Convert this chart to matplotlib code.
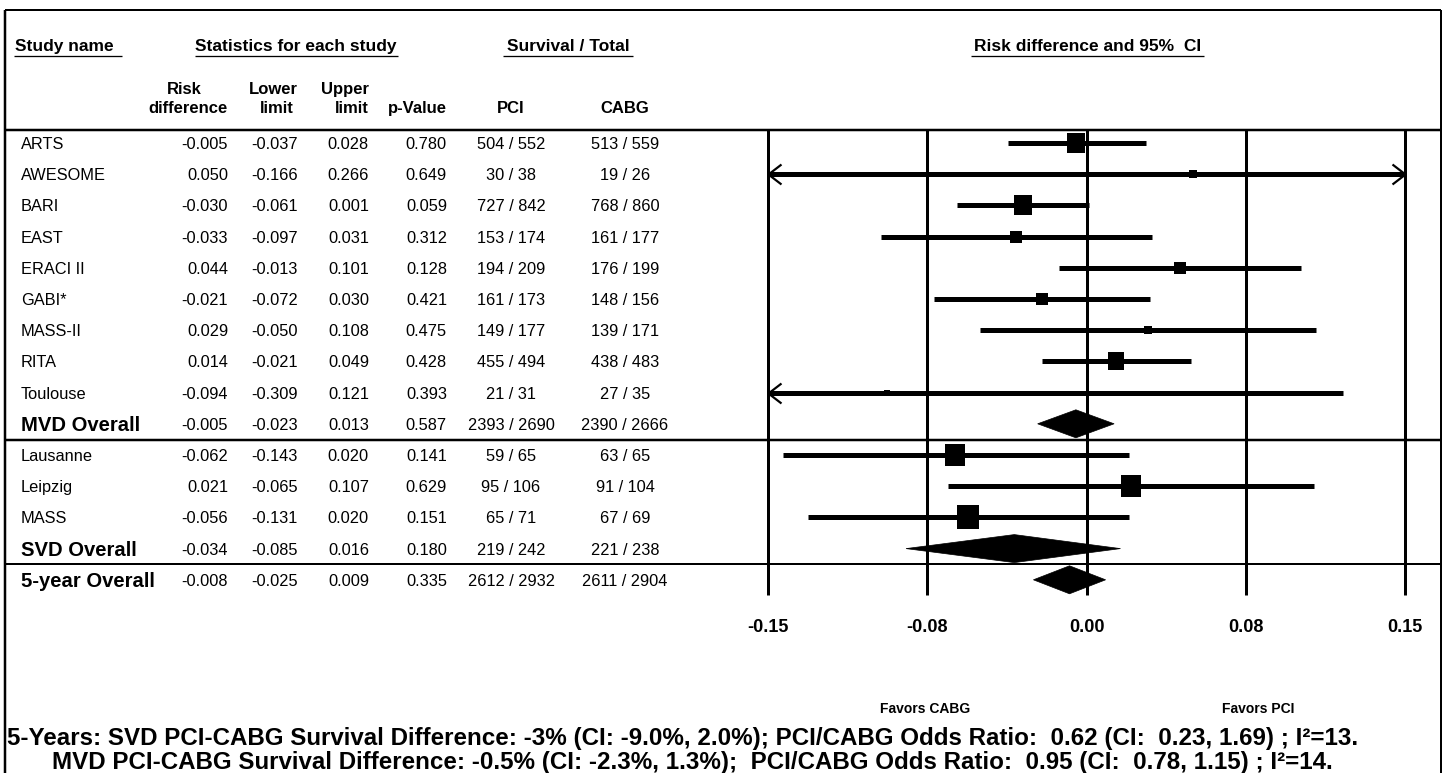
import matplotlib
matplotlib.use("Agg")
import matplotlib.pyplot as plt
from matplotlib.path import Path
from matplotlib.patches import Polygon
import numpy as np

# ---------------------------------------------------------------- data
study_names = ["ARTS", "AWESOME", "BARI", "EAST", "ERACI II", "GABI*", "MASS-II",
               "RITA", "Toulouse", "MVD Overall", "Lausanne", "Leipzig", "MASS",
               "SVD Overall", "5-year Overall"]
is_summary = [False] * 9 + [True] + [False] * 3 + [True, True]

risk_diff = [-0.005, 0.050, -0.030, -0.033, 0.044, -0.021, 0.029, 0.014, -0.094,
             -0.005, -0.062, 0.021, -0.056, -0.034, -0.008]
lower_limit = [-0.037, -0.166, -0.061, -0.097, -0.013, -0.072, -0.050, -0.021, -0.309,
               -0.023, -0.143, -0.065, -0.131, -0.085, -0.025]
upper_limit = [0.028, 0.266, 0.001, 0.031, 0.101, 0.030, 0.108, 0.049, 0.121,
               0.013, 0.020, 0.107, 0.020, 0.016, 0.009]
p_value = [0.780, 0.649, 0.059, 0.312, 0.128, 0.421, 0.475, 0.428, 0.393,
           0.587, 0.141, 0.629, 0.151, 0.180, 0.335]

pci_survived = [504, 30, 727, 153, 194, 161, 149, 455, 21, 2393, 59, 95, 65, 219, 2612]
pci_total = [552, 38, 842, 174, 209, 173, 177, 494, 31, 2690, 65, 106, 71, 242, 2932]
cabg_survived = [513, 19, 768, 161, 176, 148, 139, 438, 27, 2390, 63, 91, 67, 221, 2611]
cabg_total = [559, 26, 860, 177, 199, 156, 171, 483, 35, 2666, 65, 104, 69, 238, 2904]

# relative study weight (%) within its subgroup; summary rows carry none
study_weight = [22, 4, 24, 9, 9, 10, 4, 20, 2, 0, 29, 29, 34, 0, 0]

x_ticks = [-0.15, -0.075, 0.0, 0.075, 0.15]
x_tick_labels = ["-0.15", "-0.08", "0.00", "0.08", "0.15"]

footnote_1 = ("5-Years: SVD PCI-CABG Survival Difference: -3% (CI: -9.0%, 2.0%); "
              "PCI/CABG Odds Ratio:  0.62 (CI:  0.23, 1.69) ; I\u00b2=13.")
footnote_2 = ("MVD PCI-CABG Survival Difference: -0.5% (CI: -2.3%, 1.3%);  "
              "PCI/CABG Odds Ratio:  0.95 (CI:  0.78, 1.15) ; I\u00b2=14.")

# ---------------------------------------------------------------- layout
W, H, DPI = 1443, 773, 100
PT = 72.0 / DPI                       # points per pixel
FONT = "Liberation Sans"

ROW0, ROW_STEP = 143, 31.2
row_y = ROW0 + ROW_STEP * np.arange(len(study_names))

fig = plt.figure(figsize=(W / DPI, H / DPI), dpi=DPI)
fig.patch.set_facecolor("white")

# full-figure pixel axes for the table and the frame
tab = fig.add_axes([0, 0, 1, 1])
tab.set_xlim(0, W)
tab.set_ylim(H, 0)
tab.axis("off")

# forest-plot axes: x in risk difference, y in pixel rows
PX0, PX1 = 768, 1405
fp = fig.add_axes([PX0 / W, 0, (PX1 - PX0) / W, 1])
fp.set_xlim(x_ticks[0], x_ticks[-1])
fp.set_ylim(H, 0)
fp.axis("off")
fp.patch.set_alpha(0)

# frame and rules
LEFT, RIGHT, TOP = 5, 1441, 10
line_kw = dict(color="black", solid_capstyle="butt", clip_on=False)
tab.plot([LEFT, RIGHT], [TOP, TOP], lw=2 * PT, **line_kw)
tab.plot([LEFT, LEFT], [TOP, H], lw=2.5 * PT, **line_kw)
tab.plot([RIGHT, RIGHT], [TOP, H], lw=2 * PT, **line_kw)
for yy, w in [(129.5, 2.5), (440, 2.5), (564, 2)]:
    tab.plot([LEFT, RIGHT], [yy, yy], lw=w * PT, **line_kw)

# group headers with underlines
hdr_kw = dict(family=FONT, weight="bold", fontsize=12.5, va="baseline", color="black")
tab.text(15, 51, "Study name", ha="left", **hdr_kw)
tab.plot([14, 122], [56, 56], lw=1.3 * PT, **line_kw)
tab.text(296, 51, "Statistics for each study", ha="center", **hdr_kw)
tab.plot([195, 398], [56, 56], lw=1.3 * PT, **line_kw)
tab.text(568, 51, "Survival / Total", ha="center", **hdr_kw)
tab.plot([503, 633], [56, 56], lw=1.3 * PT, **line_kw)
tab.text(1088, 51, "Risk difference and 95%  CI", ha="center", **hdr_kw)
tab.plot([971, 1204], [56, 56], lw=1.3 * PT, **line_kw)

# column headers
COL_RD, COL_LO, COL_UP, COL_P = 228, 298, 369, 447
COL_PCI, COL_CABG = 511, 625
sub_kw = dict(family=FONT, weight="bold", fontsize=12, va="baseline", color="black")
tab.text(184, 94, "Risk", ha="center", **sub_kw)
tab.text(COL_RD, 113, "difference", ha="right", **sub_kw)
tab.text(COL_LO, 94, "Lower", ha="right", **sub_kw)
tab.text(COL_LO - 4, 113, "limit", ha="right", **sub_kw)
tab.text(COL_UP, 94, "Upper", ha="right", **sub_kw)
tab.text(COL_UP, 113, "limit", ha="right", **sub_kw)
tab.text(COL_P, 113, "p-Value", ha="right", **sub_kw)
tab.text(COL_PCI, 113, "PCI", ha="center", **sub_kw)
tab.text(COL_CABG, 113, "CABG", ha="center", **sub_kw)

# table body
cell_kw = dict(family=FONT, fontsize=11.8, va="baseline", color="black")
for i, name in enumerate(study_names):
    y = row_y[i]
    if is_summary[i]:
        tab.text(21, y + 7, name, ha="left", family=FONT, weight="bold",
                 fontsize=14.6, va="baseline")
    else:
        tab.text(21, y + 6, name, ha="left", **cell_kw)
    tab.text(COL_RD, y + 6, f"{risk_diff[i]:.3f}", ha="right", **cell_kw)
    tab.text(COL_LO, y + 6, f"{lower_limit[i]:.3f}", ha="right", **cell_kw)
    tab.text(COL_UP, y + 6, f"{upper_limit[i]:.3f}", ha="right", **cell_kw)
    tab.text(COL_P, y + 6, f"{p_value[i]:.3f}", ha="right", **cell_kw)
    tab.text(COL_PCI, y + 6, f"{pci_survived[i]} / {pci_total[i]}", ha="center", **cell_kw)
    tab.text(COL_CABG, y + 6, f"{cabg_survived[i]} / {cabg_total[i]}", ha="center", **cell_kw)

# ---------------------------------------------------------------- forest plot
GRID_TOP, GRID_BOTTOM = 129, 595
for t, lab in zip(x_ticks, x_tick_labels):
    fp.plot([t, t], [GRID_TOP, GRID_BOTTOM], lw=3 * PT, **line_kw)
    fp.text(t, 632, lab, ha="center", va="baseline",
            family=FONT, weight="bold", fontsize=13)

xmin, xmax = x_ticks[0], x_ticks[-1]
left_head = Path([(1.3, 1.0), (0.0, 0.0), (1.3, -1.0)],
                 [Path.MOVETO, Path.LINETO, Path.LINETO])
right_head = Path([(-1.3, 1.0), (0.0, 0.0), (-1.3, -1.0)],
                  [Path.MOVETO, Path.LINETO, Path.LINETO])
box = Path([(-0.45, -0.5), (0.45, -0.5), (0.45, 0.5), (-0.45, 0.5), (-0.45, -0.5)],
           [Path.MOVETO, Path.LINETO, Path.LINETO, Path.LINETO, Path.CLOSEPOLY])

DIAMOND_HALF = 14
for i in range(len(study_names)):
    y = row_y[i]
    est, lo, hi = risk_diff[i], lower_limit[i], upper_limit[i]
    if is_summary[i]:
        fp.add_patch(Polygon([(lo, y), (est, y - DIAMOND_HALF), (hi, y),
                              (est, y + DIAMOND_HALF)], closed=True,
                             facecolor="black", edgecolor="black", lw=0.5,
                             clip_on=False, zorder=4))
        continue
    a, b = max(lo, xmin), min(hi, xmax)
    fp.plot([a, b], [y, y], lw=5 * PT, color="black", solid_capstyle="butt",
            clip_on=False, zorder=3)
    if lo < xmin:
        fp.plot([xmin], [y], marker=left_head, markersize=26 * PT,
                markerfacecolor="none", markeredgecolor="black",
                markeredgewidth=2.2 * PT, clip_on=False, zorder=4)
    if hi > xmax:
        fp.plot([xmax], [y], marker=right_head, markersize=26 * PT,
                markerfacecolor="none", markeredgecolor="black",
                markeredgewidth=2.2 * PT, clip_on=False, zorder=4)
    side_px = 4.1 * np.sqrt(study_weight[i])
    fp.plot([est], [y], marker=box, markersize=side_px * PT, color="black",
            markeredgewidth=0, clip_on=False, zorder=5)

fav_kw = dict(family=FONT, weight="bold", fontsize=10, va="baseline", ha="center")
tab.text(925, 713, "Favors CABG", **fav_kw)
tab.text(1258, 713, "Favors PCI", **fav_kw)

# ---------------------------------------------------------------- footnotes
foot_kw = dict(family=FONT, weight="bold", va="baseline", ha="left")
f1 = tab.text(7, 746, footnote_1, fontsize=14, **foot_kw)
f2 = tab.text(52, 769, footnote_2, fontsize=14, **foot_kw)
renderer = fig.canvas.get_renderer()
size = 14 * 1350.0 / f1.get_window_extent(renderer).width
f1.set_fontsize(size)
f2.set_fontsize(size)
# stack the two lines so their boxes just clear each other
h2 = f2.get_window_extent(renderer).height
f1.set_y(769 - h2 - 1)

fig.savefig("out.png", dpi=DPI, facecolor="white")
